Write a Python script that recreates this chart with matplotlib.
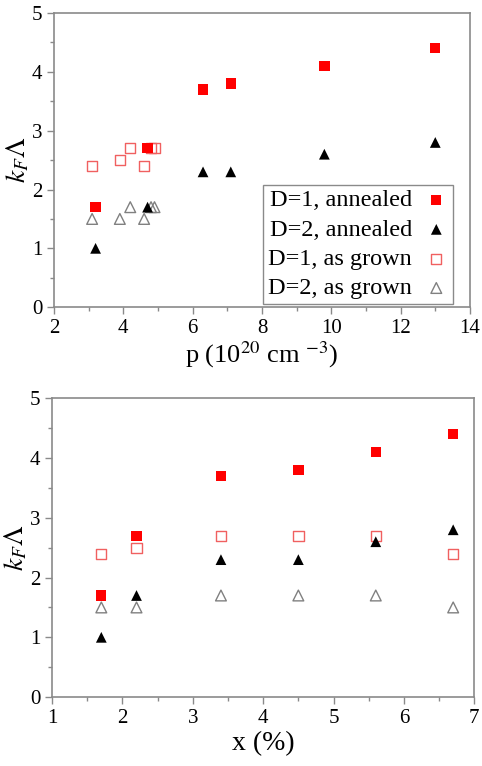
import matplotlib
matplotlib.use("Agg")
import matplotlib.pyplot as plt

# dados
p_ann = [3.2, 4.7, 6.3, 7.1, 9.8, 13.0]
p_grown = [3.1, 3.9, 4.2, 4.8, 4.9, 4.6]
x_pct = [1.7, 2.2, 3.4, 4.5, 5.6, 6.7]
d1_ann = [1.7, 2.7, 3.7, 3.8, 4.1, 4.4]
d2_ann = [1.0, 1.7, 2.3, 2.3, 2.6, 2.8]
d1_grown = [2.4, 2.5, 2.7, 2.7, 2.7, 2.4]
d2_grown = [1.5, 1.5, 1.7, 1.7, 1.7, 1.5]
labels = ["D=1, annealed", "D=2, annealed", "D=1, as grown", "D=2, as grown"]

plt.rcParams['font.family'] = ['Liberation Serif', 'DejaVu Serif']
plt.rcParams['mathtext.fontset'] = 'stix'

spine_c = '#8a8a8a'


def style(ax):
    for s in ax.spines.values():
        s.set_color(spine_c)
        s.set_linewidth(1.2)
    ax.tick_params(which='both', color=spine_c, labelsize=15, width=1.0)
    ax.tick_params(which='major', length=5)
    ax.tick_params(which='minor', length=3)
    ax.set_ylim(0, 5)
    ax.set_yticks([0, 1, 2, 3, 4, 5])
    ax.set_yticks([0.5, 1.5, 2.5, 3.5, 4.5], minor=True)
    ax.set_ylabel(r"$k_F\Lambda$", fontsize=20, labelpad=0)


def draw(ax, xa, xg):
    ax.scatter(xa, d1_ann, marker='s', s=55, c='#ff0000', edgecolor='none', label=labels[0], zorder=3)
    ax.scatter(xa, d2_ann, marker='^', s=60, c='black', edgecolor='none', label=labels[1], zorder=3)
    ax.scatter(xg, d1_grown, marker='s', s=55, facecolor='none', edgecolor='#f06060', linewidth=1.0, label=labels[2], zorder=2)
    ax.scatter(xg, d2_grown, marker='^', s=60, facecolor='none', edgecolor='#808080', linewidth=1.0, label=labels[3], zorder=2)


fig = plt.figure(figsize=(4.82, 7.66), dpi=100)

ax1 = fig.add_axes([0.112, 0.599, 0.863, 0.384])
draw(ax1, p_ann, p_grown)
style(ax1)
ax1.set_xlim(2, 14)
ax1.set_xticks(range(2, 15, 2))
ax1.set_xticks(range(3, 14, 2), minor=True)
ax1.set_xlabel(r"p (10$^{20}$ cm $^{-3}$)", fontsize=19, labelpad=1)
leg = ax1.legend(loc='lower right', markerfirst=False, fontsize=17.5, fancybox=False,
                 edgecolor=spine_c, framealpha=1, handlelength=1.0, handletextpad=0.5,
                 borderpad=0.2, labelspacing=0.3, borderaxespad=0,
                 bbox_to_anchor=(0.96, 0.01))
leg.get_frame().set_linewidth(1.0)

ax2 = fig.add_axes([0.108, 0.090, 0.876, 0.390])
draw(ax2, x_pct, x_pct)
style(ax2)
ax2.set_xlim(1, 7)
ax2.set_xticks(range(1, 8))
ax2.set_xticks([1.5, 2.5, 3.5, 4.5, 5.5, 6.5], minor=True)
ax2.set_xlabel("x (%)", fontsize=20, labelpad=2)

plt.savefig("out.png", dpi=100)
